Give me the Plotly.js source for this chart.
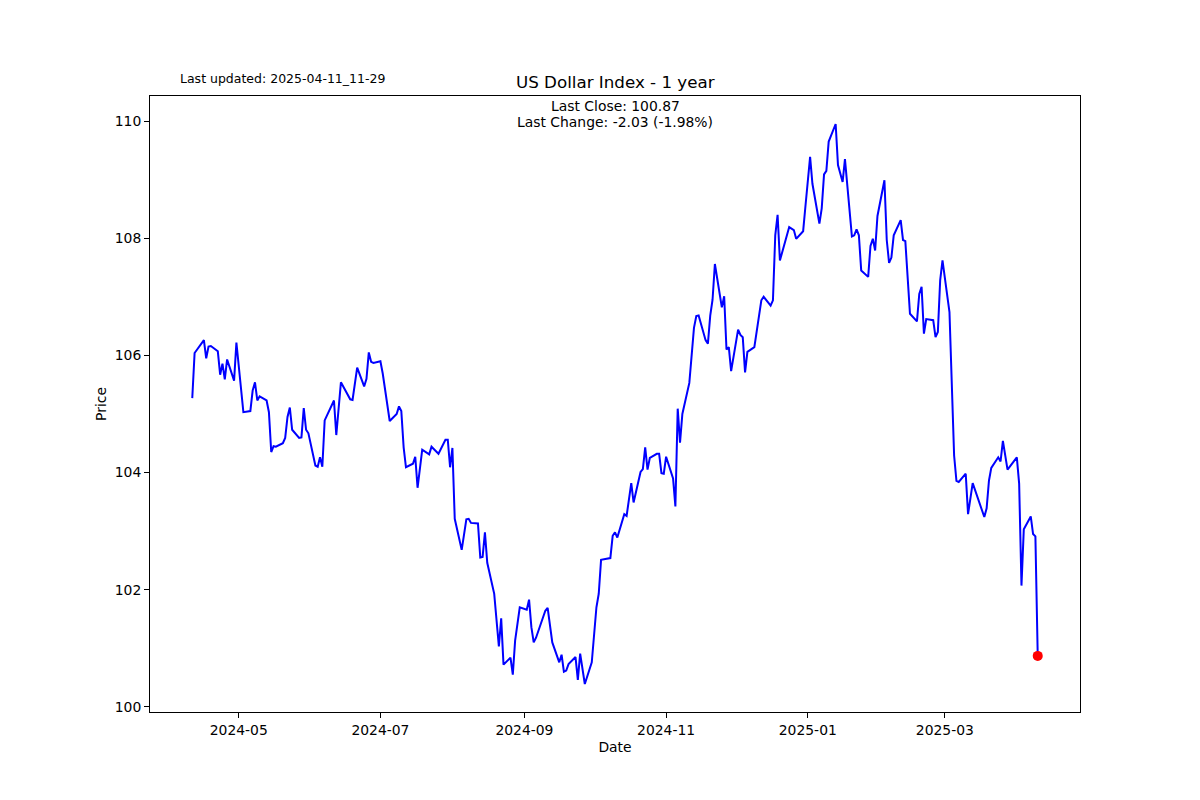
<!DOCTYPE html>
<html>
<head>
<meta charset="utf-8">
<script src="https://cdn.plot.ly/plotly-3.0.1.min.js"></script>
<style>
  html, body { margin: 0; padding: 0; background: #ffffff; }
  #chart { width: 1200px; height: 800px; }
</style>
</head>
<body>
<div id="chart"></div>
<script>
// ---- data ----
const dates = [
  '2024-04-11','2024-04-12','2024-04-16','2024-04-17','2024-04-18','2024-04-19','2024-04-22','2024-04-23','2024-04-24','2024-04-25',
  '2024-04-26','2024-04-29','2024-04-30','2024-05-01','2024-05-03','2024-05-06','2024-05-07','2024-05-08','2024-05-09','2024-05-10',
  '2024-05-13','2024-05-14','2024-05-15','2024-05-16','2024-05-17','2024-05-20','2024-05-21','2024-05-22','2024-05-23','2024-05-24',
  '2024-05-27','2024-05-28','2024-05-29','2024-05-30','2024-05-31','2024-06-03','2024-06-04','2024-06-05','2024-06-06','2024-06-07',
  '2024-06-11','2024-06-12','2024-06-14','2024-06-18','2024-06-19','2024-06-21','2024-06-24','2024-06-25','2024-06-26','2024-06-27',
  '2024-06-28','2024-07-01','2024-07-02','2024-07-05','2024-07-08','2024-07-09','2024-07-10','2024-07-11','2024-07-12','2024-07-15',
  '2024-07-16','2024-07-17','2024-07-19','2024-07-22','2024-07-23','2024-07-26','2024-07-29','2024-07-30','2024-07-31','2024-08-01',
  '2024-08-02','2024-08-05','2024-08-07','2024-08-08','2024-08-09','2024-08-12','2024-08-13','2024-08-14','2024-08-15','2024-08-16',
  '2024-08-19','2024-08-21','2024-08-22','2024-08-23','2024-08-26','2024-08-27','2024-08-28','2024-08-30','2024-09-02','2024-09-03',
  '2024-09-04','2024-09-05','2024-09-06','2024-09-10','2024-09-11','2024-09-13','2024-09-16','2024-09-17','2024-09-18','2024-09-19',
  '2024-09-20','2024-09-23','2024-09-24','2024-09-25','2024-09-27','2024-09-30','2024-10-02','2024-10-03','2024-10-04','2024-10-08',
  '2024-10-09','2024-10-10','2024-10-11','2024-10-14','2024-10-15','2024-10-17','2024-10-18','2024-10-21','2024-10-22','2024-10-23',
  '2024-10-24','2024-10-25','2024-10-28','2024-10-29','2024-10-30','2024-10-31','2024-11-01','2024-11-04','2024-11-05','2024-11-06',
  '2024-11-07','2024-11-08','2024-11-11','2024-11-13','2024-11-14','2024-11-15','2024-11-18','2024-11-19','2024-11-20','2024-11-21',
  '2024-11-22','2024-11-25','2024-11-26','2024-11-27','2024-11-28','2024-11-29','2024-12-02','2024-12-03','2024-12-04','2024-12-05',
  '2024-12-06','2024-12-09','2024-12-11','2024-12-12','2024-12-13','2024-12-16','2024-12-17','2024-12-18','2024-12-19','2024-12-20',
  '2024-12-24','2024-12-26','2024-12-27','2024-12-30','2024-12-31','2025-01-02','2025-01-03','2025-01-06','2025-01-07','2025-01-08',
  '2025-01-09','2025-01-10','2025-01-13','2025-01-14','2025-01-16','2025-01-17','2025-01-20','2025-01-21','2025-01-22','2025-01-23',
  '2025-01-24','2025-01-27','2025-01-28','2025-01-29','2025-01-30','2025-01-31','2025-02-03','2025-02-04','2025-02-05','2025-02-06',
  '2025-02-07','2025-02-10','2025-02-11','2025-02-12','2025-02-14','2025-02-17','2025-02-18','2025-02-19','2025-02-20','2025-02-21',
  '2025-02-24','2025-02-25','2025-02-26','2025-02-27','2025-02-28','2025-03-03','2025-03-05','2025-03-06','2025-03-07','2025-03-10',
  '2025-03-11','2025-03-13','2025-03-18','2025-03-19','2025-03-20','2025-03-21','2025-03-24','2025-03-25','2025-03-26','2025-03-28',
  '2025-04-01','2025-04-02','2025-04-03','2025-04-04','2025-04-07','2025-04-08','2025-04-09','2025-04-10'
];
const prices = [
  105.27,106.04,106.26,105.95,106.15,106.16,106.07,105.67,105.86,105.59,
  105.93,105.57,106.22,105.80,105.03,105.05,105.40,105.54,105.23,105.30,
  105.23,105.03,104.35,104.45,104.44,104.50,104.59,104.95,105.11,104.73,
  104.59,104.60,105.10,104.73,104.67,104.12,104.10,104.26,104.10,104.89,
  105.23,104.64,105.54,105.25,105.24,105.79,105.47,105.60,106.05,105.89,
  105.87,105.90,105.69,104.88,105.00,105.13,105.05,104.43,104.09,104.15,
  104.27,103.74,104.39,104.31,104.44,104.32,104.56,104.56,104.09,104.42,
  103.21,102.68,103.20,103.21,103.14,103.13,102.55,102.56,102.98,102.46,
  101.93,101.03,101.51,100.72,100.84,100.55,101.13,101.70,101.66,101.83,
  101.36,101.10,101.18,101.64,101.69,101.10,100.76,100.89,100.60,100.62,
  100.73,100.85,100.46,100.91,100.39,100.76,101.70,101.93,102.51,102.54,
  102.92,102.98,102.89,103.29,103.26,103.82,103.49,104.01,104.06,104.43,
  104.05,104.25,104.32,104.32,103.99,103.98,104.27,103.90,103.42,105.09,
  104.51,105.00,105.53,106.47,106.67,106.68,106.26,106.20,106.68,106.95,
  107.56,106.82,107.01,106.10,106.14,105.73,106.44,106.35,106.31,105.71,
  106.06,106.14,106.65,106.94,107.00,106.85,106.94,108.05,108.40,107.62,
  108.19,108.14,107.99,108.12,108.55,109.39,108.93,108.25,108.51,109.09,
  109.15,109.65,109.95,109.25,108.96,109.35,108.03,108.05,108.15,108.05,
  107.45,107.34,107.87,107.99,107.79,108.38,108.99,107.97,107.58,107.67,
  108.05,108.31,107.97,107.95,106.71,106.58,107.05,107.17,106.37,106.62,
  106.60,106.31,106.40,107.28,107.62,106.74,104.29,103.86,103.84,103.98,
  103.29,103.82,103.24,103.39,103.86,104.08,104.26,104.19,104.54,104.05,
  104.26,103.81,102.07,103.03,103.25,102.95,102.91,100.87
];
const xTickVals = ['2024-05-01','2024-07-01','2024-09-01','2024-11-01','2025-01-01','2025-03-01'];
const xTickText = ['2024-05','2024-07','2024-09','2024-11','2025-01','2025-03'];
const yTickVals = [100, 102, 104, 106, 108, 110];
const yTickText = ['100', '102', '104', '106', '108', '110'];

const chartTitle = 'US Dollar Index - 1 year';
const updatedText = 'Last updated: 2025-04-11_11-29';
const closeText = 'Last Close: 100.87';
const changeText = 'Last Change: -2.03 (-1.98%)';
const xTitle = 'Date';
const yTitle = 'Price';

// ---- autoscale like matplotlib (5% margins) ----
const t0 = Date.parse(dates[0] + 'T00:00:00Z');
const t1 = Date.parse(dates[dates.length - 1] + 'T00:00:00Z');
const tPad = (t1 - t0) * 0.05;
function iso(ms) { return new Date(ms).toISOString().replace('T', ' ').replace('Z', '').slice(0, 19); }
const xRange = [iso(t0 - tPad), iso(t1 + tPad)];
const yMin = Math.min(...prices), yMax = Math.max(...prices);
const yPad = (yMax - yMin) * 0.05;
const yRange = [yMin - yPad, yMax + yPad];

const FONT = 'DejaVu Sans, Liberation Sans, sans-serif';

const traces = [
  {
    x: dates, y: prices, type: 'scatter', mode: 'lines',
    line: { color: '#0000ff', width: 2 },
    hoverinfo: 'skip', showlegend: false
  },
  {
    x: [dates[dates.length - 1]], y: [prices[prices.length - 1]],
    type: 'scatter', mode: 'markers',
    marker: { color: '#ff0000', size: 10, line: { width: 0 } },
    hoverinfo: 'skip', showlegend: false
  }
];

const axisCommon = {
  showgrid: false, zeroline: false,
  showline: true, mirror: true, linecolor: '#000000', linewidth: 1,
  ticks: 'outside', ticklen: 5, tickwidth: 1, tickcolor: '#000000',
  tickfont: { family: FONT, size: 13.9, color: '#000000' },
  tickmode: 'array'
};

const layout = {
  width: 1200, height: 800,
  paper_bgcolor: '#ffffff', plot_bgcolor: '#ffffff',
  margin: { l: 150, r: 120, t: 96, b: 88, pad: 0 },
  font: { family: FONT, color: '#000000' },
  showlegend: false,
  xaxis: Object.assign({}, axisCommon, {
    type: 'date', range: xRange,
    tickvals: xTickVals, ticktext: xTickText,
    title: { text: xTitle, font: { family: FONT, size: 13.9, color: '#000000' }, standoff: 5 }
  }),
  yaxis: Object.assign({}, axisCommon, {
    range: yRange,
    tickvals: yTickVals, ticktext: yTickText,
    title: { text: yTitle, font: { family: FONT, size: 13.9, color: '#000000' }, standoff: 4 }
  }),
  annotations: [
    { text: chartTitle, xref: 'paper', yref: 'paper', x: 0.5, y: 1, xanchor: 'center', yanchor: 'middle',
      yshift: 14, showarrow: false, font: { family: FONT, size: 16.7, color: '#000000' } },
    { text: updatedText, xref: 'paper', yref: 'paper', x: 0, y: 1, xanchor: 'left', yanchor: 'middle',
      xshift: 28, yshift: 18, showarrow: false, font: { family: FONT, size: 12.5, color: '#000000' } },
    { text: closeText, xref: 'paper', yref: 'paper', x: 0.5, y: 1, xanchor: 'center', yanchor: 'middle',
      yshift: -10, showarrow: false, font: { family: FONT, size: 13.9, color: '#000000' } },
    { text: changeText, xref: 'paper', yref: 'paper', x: 0.5, y: 1, xanchor: 'center', yanchor: 'middle',
      yshift: -26, showarrow: false, font: { family: FONT, size: 13.9, color: '#000000' } }
  ]
};

Plotly.newPlot('chart', traces, layout, { displayModeBar: false, staticPlot: true });
</script>
</body>
</html>
